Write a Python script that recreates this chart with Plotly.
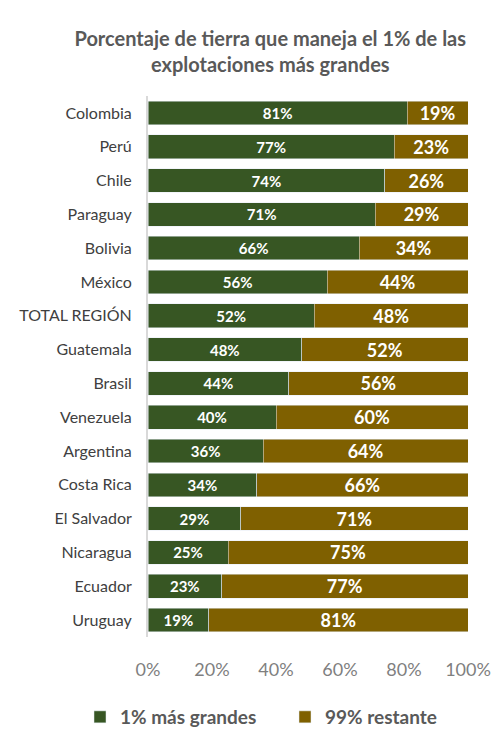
import plotly.graph_objects as go

categories = ["Colombia", "Perú", "Chile", "Paraguay", "Bolivia", "México", "TOTAL REGIÓN",
              "Guatemala", "Brasil", "Venezuela", "Argentina", "Costa Rica", "El Salvador",
              "Nicaragua", "Ecuador", "Uruguay"]
top1 = [81, 77, 74, 71, 66, 56, 52, 48, 44, 40, 36, 34, 29, 25, 23, 19]
rest99 = [19, 23, 26, 29, 34, 44, 48, 52, 56, 60, 64, 66, 71, 75, 77, 81]
x_ticks = [0, 20, 40, 60, 80, 100]
x_tick_labels = ["0%", "20%", "40%", "60%", "80%", "100%"]

FONT = "Lato"
fig = go.Figure()
fig.add_trace(go.Bar(
    y=categories, x=top1, orientation="h", name="1% más grandes",
    marker=dict(color="#375623"),
    text=[f"{v}%" for v in top1], textposition="inside", insidetextanchor="middle",
    textfont=dict(color="white", size=15, family=FONT, weight="bold"),
    textangle=0, constraintext="none", legend="legend", showlegend=True,
))
fig.add_trace(go.Bar(
    y=categories, x=rest99, orientation="h", name="99% restante",
    marker=dict(color="#7F6000"),
    text=[f"{v}%" for v in rest99], textposition="inside", insidetextanchor="middle",
    textfont=dict(color="white", size=18, family=FONT, weight="bold"),
    textangle=0, constraintext="none", legend="legend2", showlegend=True,
))

legend_common = dict(
    orientation="h", xanchor="left", xref="container",
    y=14 / 731, yanchor="middle", yref="container",
    font=dict(family=FONT, size=19, color="#595959", weight="bold"),
    itemwidth=30, bgcolor="rgba(0,0,0,0)",
)

fig.update_layout(
    width=495, height=731, showlegend=True,
    barmode="stack", bargap=0.3,
    plot_bgcolor="white", paper_bgcolor="white",
    margin=dict(l=148, r=27, t=96, b=94, autoexpand=False),
    title=dict(
        text="Porcentaje de tierra que maneja el 1% de las<br>explotaciones más grandes",
        x=0.546, xanchor="center", xref="container",
        y=0.937, yanchor="top", yref="container",
        font=dict(family=FONT, size=20, color="#595959", weight="bold"),
    ),
    legend=dict(x=80 / 495, visible=True, **legend_common),
    legend2=dict(x=285 / 495, visible=True, **legend_common),
)
fig.update_xaxes(
    range=[0, 100], tickvals=x_ticks, ticktext=x_tick_labels,
    showgrid=False, zeroline=False, showline=False,
    ticks="outside", ticklen=16, tickcolor="rgba(0,0,0,0)",
    tickfont=dict(family=FONT, size=18, color="#7f7f7f"),
)
fig.update_yaxes(
    autorange="reversed", showgrid=False, zeroline=False,
    showline=True, linecolor="#d9d9d9", linewidth=2,
    ticks="outside", ticklen=11, tickcolor="rgba(0,0,0,0)",
    tickfont=dict(family=FONT, size=16, color="#404040"),
)
fig.write_html("out.html", config={"displayModeBar": False},
               post_script="document.body.style.margin='0';")
